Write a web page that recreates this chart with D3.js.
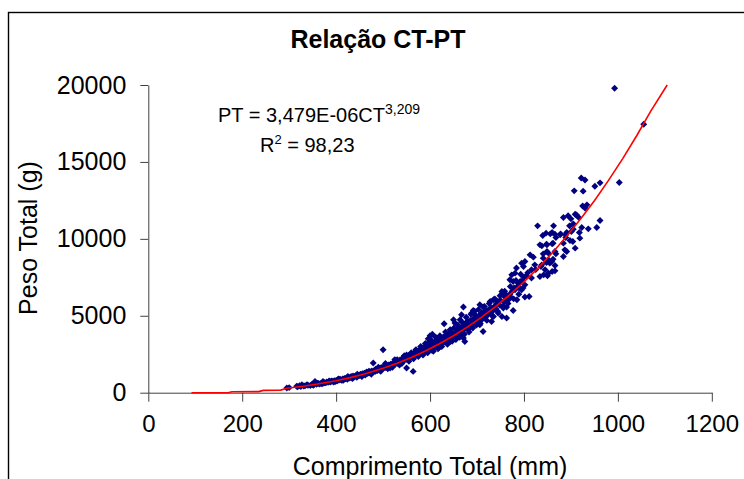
<!DOCTYPE html>
<html>
<head>
  <script type="text/javascript" src="https://d3js.org/d3.v7.min.js"></script>
</head>
<body>
<style type="text/css">
  html,
  body,
  svg {
    overflow: hidden;
    margin: 0px;
    width: 100%;
    height: 100%;
    background: #fff;
  }
  text {
    font-family: "Liberation Sans", Arial, sans-serif;
    fill: #000;
  }
  .axis path,
  .axis line {
    stroke: #404040;
    stroke-width: 1;
  }
  .data-point {
    fill: #000080;
  }
  .trend {
    fill: none;
    stroke: #ff0000;
    stroke-width: 1.6;
  }
</style>

<script>
"use strict";

// Data
const TITLE = "Relação CT-PT";
const X_LABEL = "Comprimento Total (mm)";
const Y_LABEL = "Peso Total (g)";
const X_TICKS = [0, 200, 400, 600, 800, 1000, 1200];
const Y_TICKS = [0, 5000, 10000, 15000, 20000];

// Comprimento total (mm), peso total (g)
const POINTS = [
  [295,300],[300,330],[316,420],[318,390],[322,450],[325,400],[327,520],[331,430],[334,455],[338,520],
  [340,480],[345,470],[348,540],[350,520],[352,490],[355,735],[358,540],[360,620],[362,600],[365,560],
  [368,620],[370,580],[372,735],[372,610],[375,650],[378,640],[380,700],[383,680],[385,760],[386,720],
  [388,700],[390,760],[393,740],[395,700],[396,780],[398,720],
  [400,800],[402,760],[404,840],[405,900],[406,820],[408,880],[410,850],[412,800],[414,900],[415,800],
  [416,870],[418,930],[420,900],[422,960],[424,880],[425,1050],[426,1000],[428,950],[430,990],[432,1050],
  [434,960],[435,920],[436,1080],[438,1020],[440,1060],[442,1110],[444,1000],[445,1200],[446,1150],[448,1100],
  [450,1140],[452,1200],[454,1080],[455,1050],[456,1230],[458,1180],[460,1260],[462,1150],[464,1300],[465,1350],
  [466,1240],[468,1330],[470,1280],[470,1400],[472,1370],[474,1300],[475,1200],[476,1420],[479,1930],[480,1380],
  [482,1460],[484,1400],[485,1550],[486,1500],[488,1440],[490,1560],[490,1650],[492,1480],[494,1600],[495,1400],
  [496,1520],[498,1650],
  [500,2790],[500,1580],[502,1680],[504,1620],[505,1900],[506,1750],[508,1660],[510,1700],[510,1550],[512,1800],
  [514,1720],[515,1600],[516,1850],[518,1760],[520,1900],[520,1650],[522,1800],[524,1950],[525,2150],[526,1870],
  [528,2000],[530,1900],[530,2150],[532,2050],[534,1950],[535,1800],[536,2120],[538,2010],[540,2200],[540,1900],
  [542,2050],[544,2250],[545,2400],[546,2120],[548,2320],[550,1600],[550,2180],[550,2450],[552,2280],[554,2400],
  [555,2050],[556,2250],[558,2500],[560,2300],[560,2600],[562,2450],[564,1385],[564,2350],[565,2200],[566,2600],
  [568,2420],[570,2550],[570,2800],[572,2700],[574,2450],[575,2350],[576,2650],[578,2800],[580,2550],[580,3000],
  [582,2700],[584,2900],[585,2450],[586,2600],[588,2800],[590,3000],[590,3200],[592,2700],[594,2900],[595,2600],
  [596,3100],[596,3500],[598,2800],[598,3300],
  [600,3700],[600,2900],[602,3050],[603,3400],[604,2750],[605,3800],[606,3150],[607,2700],[608,2950],[610,3250],
  [612,3000],[612,3600],[614,3350],[615,3450],[616,3100],[617,2850],[618,2900],[620,3300],[621,3700],[622,3500],
  [624,3200],[625,3000],[626,3400],[628,3600],[630,4480],[630,3300],[632,3500],[633,3950],[634,3750],[636,3400],
  [637,3150],[638,3600],[639,3875],[640,3500],[642,3300],[643,4100],[644,3700],[645,3850],[646,3900],[647,3350],
  [648,3600],[650,3765],[650,4740],[651,4200],[652,3500],[653,4525],[654,3900],[655,3450],[656,3700],[658,4100],
  [659,4400],[660,3800],[662,4000],[663,3600],[664,4740],[664,3700],[666,4200],[667,5065],[668,3950],[668,4600],
  [670,4300],[671,3550],[671,5565],[672,4100],[673,3800],[674,3330],[674,4450],[675,4350],[676,4200],[677,4900],
  [678,4600],[680,4300],[681,4630],[682,4100],[683,3950],[684,4500],[686,4700],[687,5100],[688,4400],[689,5175],
  [690,4600],[691,4200],[692,5345],[692,4800],[694,4500],[695,5300],[696,5065],[696,4750],[698,4900],[699,4400],
  [700,4850],[702,4600],[703,5400],[704,5000],[706,5715],[706,4415],[707,4500],[708,4900],[710,4740],[710,5200],
  [712,5000],[713,5565],[713,3980],[715,5100],[716,5600],[717,5280],[718,4900],[720,5300],[721,4700],[722,5050],
  [724,5130],[725,5400],[726,5800],[728,5930],[728,5200],[730,5500],[731,4630],[732,5000],[733,5300],[735,6040],
  [735,4955],[737,5600],[738,6100],[740,5450],[742,5800],[744,5300],[745,5930],[745,5175],[748,5700],[749,6300],
  [750,6000],[753,6580],[753,4955],[755,5600],[756,6365],[756,5500],[758,5900],[759,6600],[760,6200],[762,6365],
  [763,5565],[763,4850],[765,6100],[766,5800],[767,6040],[770,7340],[770,6400],[771,6900],[772,6200],[774,7660],
  [775,6600],[777,7230],[777,5345],[778,6100],[779,6800],[781,7770],[781,6690],[783,7300],[784,8100],[785,6040],
  [786,6900],[788,7100],[789,6400],[790,6800],[792,7230],[793,7700],[795,8420],[795,6690],[797,7300],[798,6800],
  [799,8200],[800,7500],
  [802,8525],[802,7010],[802,6215],[805,7600],[808,7800],[811,6250],[813,8960],[816,7990],[816,7450],[820,8810],
  [823,8310],[825,8000],[829,10845],[834,9610],[834,7550],[836,8200],[838,8310],[838,9545],[840,10215],[841,8745],
  [841,9025],[842,7660],[845,7990],[847,10370],[848,9655],[848,8460],[849,9610],[849,9175],[850,7600],[852,8640],
  [852,9070],[852,7770],[855,8420],[856,10325],[859,8525],[860,9676],[860,10410],[860,7880],[862,9720],[862,8680],
  [863,10845],[866,10305],[866,9175],[866,8265],[866,7920],[868,10085],[868,9025],[877,10260],[878,10325],[884,11385],
  [884,9720],[884,8850],[887,9285],[889,10260],[889,10085],[891,10410],[891,9175],[894,11500],[897,10845],[898,9890],
  [900,11300],[901,10475],[904,9825],[905,10975],[905,10630],[907,13120],[909,11600],[909,9395],[912,11550],[916,11410],
  [918,10410],[919,10045],[922,13950],[923,10735],[925,12140],[926,13100],[930,13830],[930,12010],[934,12210],[937,10650],
  [951,13420],[955,10740],[962,13640],[962,11190],[993,19790],[1003,13660],[1055,17450]
];

// Red trend line as it appears on the chart
const TREND = [
  [92,0],[170,0],[178,60],[235,70],[245,150],[282,170],[295,290],[330,420],[360,560],[400,780],
  [430,980],[460,1220],[500,1590],[530,1920],[560,2290],[590,2710],[620,3180],[650,3700],[680,4280],[710,4910],
  [740,5610],[770,6370],[800,7200],[830,8100],[860,9080],[890,10140],[920,11270],[950,12480],[980,13800],[1010,15200],
  [1040,16700],[1070,18300],[1105,20000]
];

document.addEventListener("DOMContentLoaded", function() {
  const WIDTH = 744;
  const HEIGHT = 479;

  const SVG = d3.select("body").append("svg")
    .attr("width", WIDTH)
    .attr("height", HEIGHT);

  // Chart frame (cut at the right and bottom edge)
  SVG.append("rect")
    .attr("x", 8.5)
    .attr("y", 12.5)
    .attr("width", 900)
    .attr("height", 700)
    .attr("fill", "#fff")
    .attr("stroke", "#000")
    .attr("stroke-width", 1.4);

  const X_SCALE = d3.scaleLinear().domain([0, 1200]).range([148.3, 711.8]);
  const Y_SCALE = d3.scaleLinear().domain([0, 20000]).range([392.7, 85]);

  // Axes
  const xAxis = SVG.append("g")
    .attr("class", "axis x-axis")
    .attr("transform", "translate(0," + Y_SCALE(0) + ")")
    .call(d3.axisBottom(X_SCALE).tickValues(X_TICKS).tickSize(9).tickSizeOuter(0).tickPadding(13)
      .tickFormat(d3.format("d")));
  xAxis.selectAll("text").attr("font-size", 24);

  const yAxis = SVG.append("g")
    .attr("class", "axis y-axis")
    .attr("transform", "translate(" + X_SCALE(0) + ",0)")
    .call(d3.axisLeft(Y_SCALE).tickValues(Y_TICKS).tickSize(8).tickSizeOuter(0).tickPadding(14)
      .tickFormat(d3.format("d")));
  yAxis.selectAll("text").attr("font-size", 25);
  SVG.selectAll(".axis text").style("font-family", "'Liberation Sans', Arial, sans-serif").attr("fill", "#000");

  // Points
  const diamond = d3.symbol().type(d3.symbolSquare).size(24);
  SVG.append("g").selectAll(".data-point")
    .data(POINTS)
    .enter()
    .append("path")
    .attr("class", "data-point")
    .attr("d", diamond)
    .attr("transform", function(d) {
      return "translate(" + X_SCALE(d[0]) + "," + Y_SCALE(d[1]) + ") rotate(45)";
    });

  // Trend line
  SVG.append("path")
    .datum(TREND)
    .attr("class", "trend")
    .attr("d", d3.line()
      .x(function(d) { return X_SCALE(d[0]); })
      .y(function(d) { return Y_SCALE(d[1]); }));

  // Title and labels
  SVG.append("text")
    .attr("x", 378)
    .attr("y", 48)
    .attr("text-anchor", "middle")
    .attr("font-size", 25)
    .attr("font-weight", "bold")
    .text(TITLE);

  SVG.append("text")
    .attr("x", 430)
    .attr("y", 475)
    .attr("text-anchor", "middle")
    .attr("font-size", 25)
    .text(X_LABEL);

  SVG.append("text")
    .attr("transform", "translate(37,238) rotate(-90)")
    .attr("text-anchor", "middle")
    .attr("font-size", 25)
    .text(Y_LABEL);

  // Equation
  const eq = SVG.append("text")
    .attr("x", 218)
    .attr("y", 122)
    .attr("font-size", 20);
  eq.append("tspan").text("PT = 3,479E-06CT");
  eq.append("tspan").attr("dy", -8).attr("font-size", 14).text("3,209");

  const r2 = SVG.append("text")
    .attr("x", 260)
    .attr("y", 152)
    .attr("font-size", 20);
  r2.append("tspan").text("R");
  r2.append("tspan").attr("dy", -8).attr("font-size", 13).text("2");
  r2.append("tspan").attr("dy", 8).text(" = 98,23");
});
</script>
</body>
</html>
